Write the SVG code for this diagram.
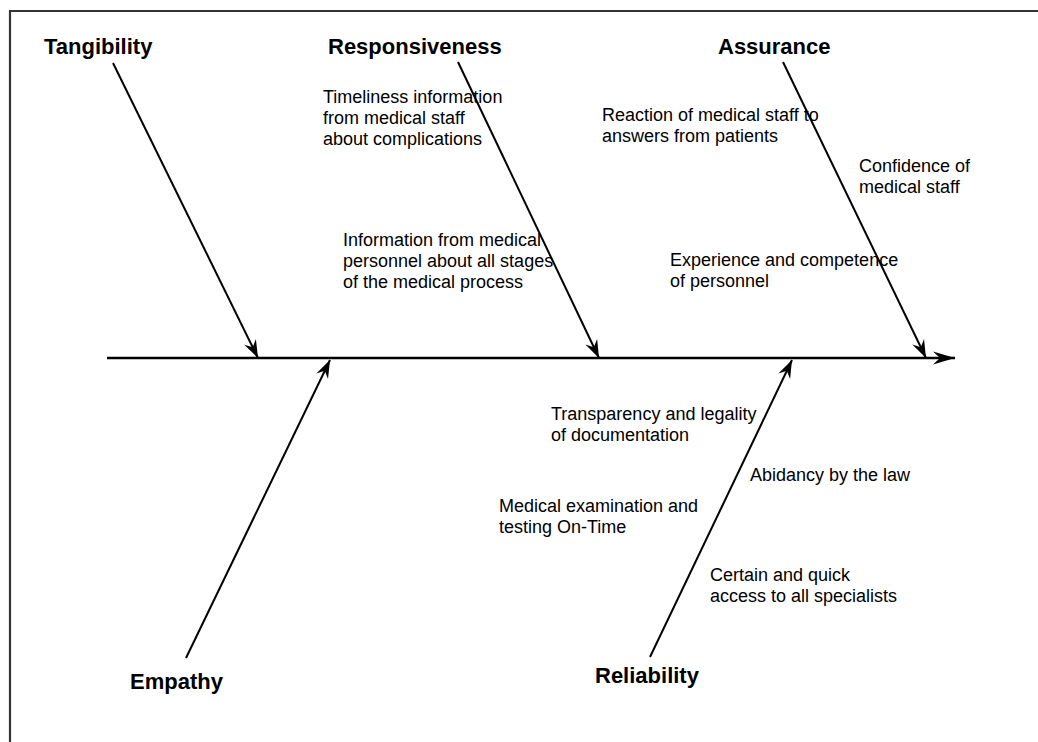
<svg xmlns="http://www.w3.org/2000/svg" width="1038" height="742" viewBox="0 0 1038 742">
<style>
.cat{font-family:"Liberation Sans",Arial,sans-serif;font-weight:bold;font-size:22px;fill:#000}
.cause{font-family:"Liberation Sans",Arial,sans-serif;font-size:18px;fill:#000}
.bone{stroke:#000;stroke-width:2;fill:none}
.spine{stroke:#000;stroke-width:2.5;fill:none}
</style>
<defs>
<marker id="ah" markerUnits="userSpaceOnUse" markerWidth="24" markerHeight="18" viewBox="-20 -9 24 18" refX="0" refY="0" orient="auto">
<path d="M0,0 L-18,-6.5 L-12,0 L-18,6.5 Z" fill="#000"/>
</marker>
<marker id="ahs" markerUnits="userSpaceOnUse" markerWidth="26" markerHeight="18" viewBox="-24 -9 26 18" refX="0" refY="0" orient="auto">
<path d="M0,0 L-22,-6.5 L-15,0 L-22,6.5 Z" fill="#000"/>
</marker>
</defs>
<rect x="0" y="0" width="1038" height="742" fill="#fff"/>
<path d="M10,760 L10,11 L1050,11" stroke="#333" stroke-width="2.2" fill="none"/>
<g id="connectors">
<line class="spine" x1="107" y1="358" x2="955" y2="358" marker-end="url(#ahs)"/>
<line class="bone" x1="113" y1="63" x2="258" y2="358" marker-end="url(#ah)"/>
<line class="bone" x1="458" y1="62" x2="599" y2="358" marker-end="url(#ah)"/>
<line class="bone" x1="783" y1="62" x2="926" y2="358" marker-end="url(#ah)"/>
<line class="bone" x1="186" y1="658" x2="330" y2="360" marker-end="url(#ah)"/>
<line class="bone" x1="650" y1="657" x2="792" y2="360" marker-end="url(#ah)"/>
</g>
<g id="tangibility"><text class="cat" x="44" y="54">Tangibility</text></g>
<g id="responsiveness"><text class="cat" x="328" y="54">Responsiveness</text></g>
<g id="assurance"><text class="cat" x="718" y="54">Assurance</text></g>
<g id="empathy"><text class="cat" x="130" y="689">Empathy</text></g>
<g id="reliability"><text class="cat" x="595" y="683">Reliability</text></g>
<g id="cause-timeliness"><text class="cause" x="323" y="103">Timeliness information<tspan x="323" dy="21">from medical staff</tspan><tspan x="323" dy="21">about complications</tspan></text></g>
<g id="cause-information"><text class="cause" x="343" y="246">Information from medical<tspan x="343" dy="21">personnel about all stages</tspan><tspan x="343" dy="21">of the medical process</tspan></text></g>
<g id="cause-reaction"><text class="cause" x="602" y="121">Reaction of medical staff to<tspan x="602" dy="21">answers from patients</tspan></text></g>
<g id="cause-confidence"><text class="cause" x="859" y="172">Confidence of<tspan x="859" dy="21">medical staff</tspan></text></g>
<g id="cause-experience"><text class="cause" x="670" y="266">Experience and competence<tspan x="670" dy="21">of personnel</tspan></text></g>
<g id="cause-transparency"><text class="cause" x="551" y="420">Transparency and legality<tspan x="551" dy="21">of documentation</tspan></text></g>
<g id="cause-abidancy"><text class="cause" x="750" y="481">Abidancy by the law</text></g>
<g id="cause-examination"><text class="cause" x="499" y="512">Medical examination and<tspan x="499" dy="21">testing On-Time</tspan></text></g>
<g id="cause-access"><text class="cause" x="710" y="581">Certain and quick<tspan x="710" dy="21">access to all specialists</tspan></text></g>
</svg>
